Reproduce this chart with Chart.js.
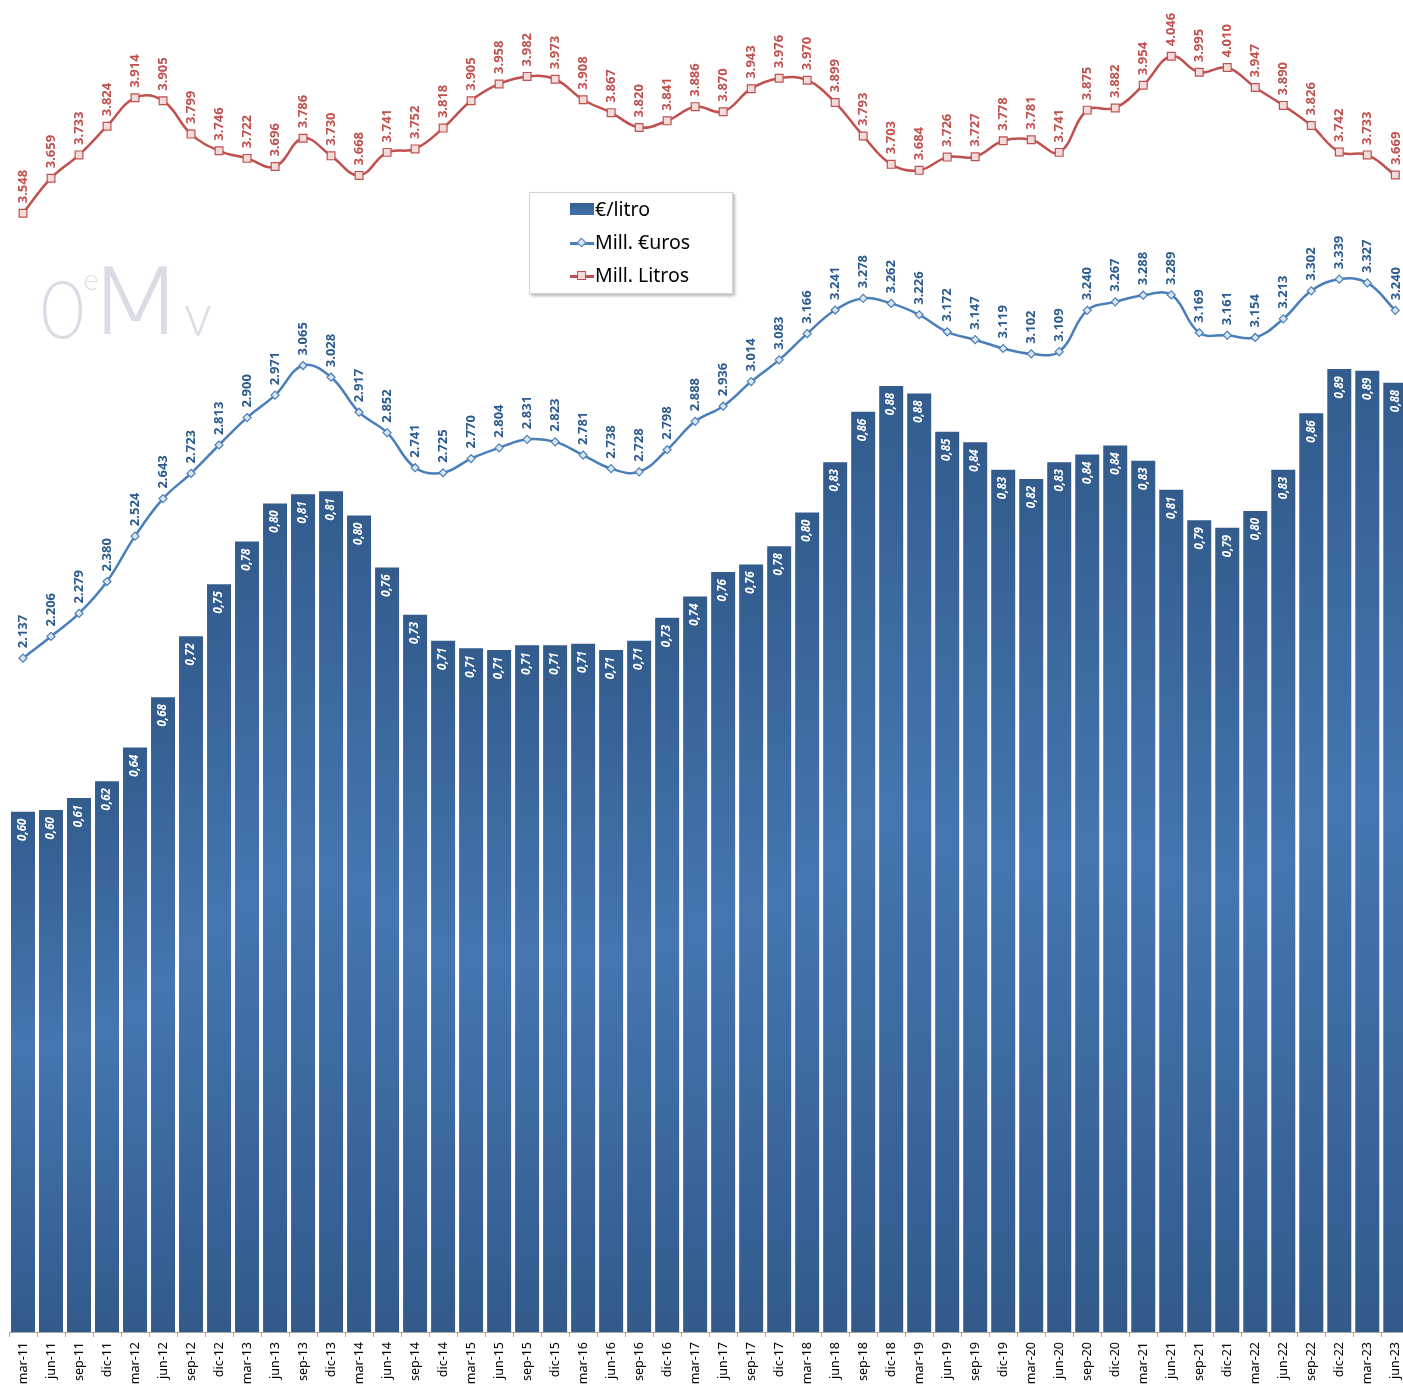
<!DOCTYPE html>
<html>
<head>
<meta charset="utf-8">
<script src="https://cdn.jsdelivr.net/npm/chart.js@4.4.1/dist/chart.umd.min.js"></script>
<style>
  html, body { margin: 0; padding: 0; background: #fff; overflow: hidden; width: 1403px; height: 1386px; }
  #wrap { position: relative; width: 1403px; height: 1386px; overflow: hidden; }
  #chart { position: absolute; left: 0; top: 0; }
  .logo span { position: absolute; line-height: 1; color: #d9dbe5; font-family: "DejaVu Sans", sans-serif; font-weight: 200; white-space: nowrap; transform-origin: 0 0; }
  .legend { position: absolute; left: 529px; top: 192px; width: 202px; height: 100px; background: #fff;
            border: 1px solid #d4d4d4; box-shadow: 2px 2px 3px rgba(0,0,0,0.28); font-family: "Noto Sans", sans-serif; font-size: 19.5px; color: #000; }
  .row { position: absolute; left: 40px; height: 26px; line-height: 26px; }
  .row span { position: absolute; left: 25px; top: -1px; white-space: nowrap; }
  .sw { position: absolute; left: 0; top: 6px; width: 24px; height: 12px; background: linear-gradient(#355f91, #4272ac); }
  .ln { position: absolute; left: 0; top: 12px; width: 24px; height: 2.5px; }
  .mk { position: absolute; left: 8px; top: 9px; width: 7px; height: 7px; box-sizing: border-box; }
</style>
</head>
<body>
<div id="wrap">
  <canvas id="chart" width="1416" height="1386"></canvas>
  <div class="logo">
    <span style="left:38px;top:274px;font-size:76px;transform:scaleX(0.82);">O</span>
    <span style="left:83px;top:268px;font-size:26px;">e</span>
    <span style="left:86px;top:257px;font-size:92px;transform:scaleX(1.25);">M</span>
    <span style="left:182px;top:290px;font-size:54px;">v</span>
  </div>
  <div class="legend">
    <div class="row" style="top:4px;"><div class="sw"></div><span>€/litro</span></div>
    <div class="row" style="top:37px;"><div class="ln" style="background:#4a7ebb;"></div>
      <div class="mk" style="background:#dce6f2;border:1.2px solid #4a7ebb;transform:rotate(45deg);"></div><span>Mill. €uros</span></div>
    <div class="row" style="top:70px;"><div class="ln" style="background:#c0504d;"></div>
      <div class="mk" style="background:#f2dcdb;border:1.2px solid #c0504d;left:7px;top:8px;width:9px;height:9px;"></div><span>Mill. Litros</span></div>
  </div>
</div>
<script>
// --- datos (trimestres) ---
const trimestres = [
  'mar-11','jun-11','sep-11','dic-11',
  'mar-12','jun-12','sep-12','dic-12',
  'mar-13','jun-13','sep-13','dic-13',
  'mar-14','jun-14','sep-14','dic-14',
  'mar-15','jun-15','sep-15','dic-15',
  'mar-16','jun-16','sep-16','dic-16',
  'mar-17','jun-17','sep-17','dic-17',
  'mar-18','jun-18','sep-18','dic-18',
  'mar-19','jun-19','sep-19','dic-19',
  'mar-20','jun-20','sep-20','dic-20',
  'mar-21','jun-21','sep-21','dic-21',
  'mar-22','jun-22','sep-22','dic-22',
  'mar-23','jun-23'
];

// Mill. €uros
const millEuros = [
  2137, 2206, 2279, 2380, 2524, 2643, 2723, 2813, 2900, 2971,
  3065, 3028, 2917, 2852, 2741, 2725, 2770, 2804, 2831, 2823,
  2781, 2738, 2728, 2798, 2888, 2936, 3014, 3083, 3166, 3241,
  3278, 3262, 3226, 3172, 3147, 3119, 3102, 3109, 3240, 3267,
  3288, 3289, 3169, 3161, 3154, 3213, 3302, 3339, 3327, 3240
];

// Mill. Litros
const millLitros = [
  3548, 3659, 3733, 3824, 3914, 3905, 3799, 3746, 3722, 3696,
  3786, 3730, 3668, 3741, 3752, 3818, 3905, 3958, 3982, 3973,
  3908, 3867, 3820, 3841, 3886, 3870, 3943, 3976, 3970, 3899,
  3793, 3703, 3684, 3726, 3727, 3778, 3781, 3741, 3875, 3882,
  3954, 4046, 3995, 4010, 3947, 3890, 3826, 3742, 3733, 3669
];

// €/litro
const euroLitro = [
  0.602, 0.603, 0.611, 0.622, 0.644, 0.677, 0.717, 0.751, 0.779, 0.804,
  0.810, 0.812, 0.796, 0.762, 0.731, 0.714, 0.709, 0.708, 0.711, 0.711,
  0.712, 0.708, 0.714, 0.729, 0.743, 0.759, 0.764, 0.776, 0.798, 0.831,
  0.864, 0.881, 0.876, 0.851, 0.844, 0.826, 0.820, 0.831, 0.836, 0.842,
  0.832, 0.813, 0.793, 0.788, 0.799, 0.826, 0.863, 0.892, 0.891, 0.883
];

const fmtMiles = v => String(v).replace(/\B(?=(\d{3})+(?!\d))/g, '.');
const fmtDec = v => v.toFixed(2).replace('.', ',');

// etiquetas de datos giradas (como en Excel)
const etiquetas = {
  id: 'etiquetas',
  afterDatasetsDraw(chart) {
    const ctx = chart.ctx;
    chart.data.datasets.forEach((ds, i) => {
      const meta = chart.getDatasetMeta(i);
      meta.data.forEach((el, j) => {
        const v = ds.data[j];
        ctx.save();
        if (ds.type === 'bar') {
          ctx.translate(el.x, el.y + 7);
          ctx.rotate(-Math.PI / 2);
          ctx.font = 'italic bold 11.5px "Noto Sans"';
          ctx.fillStyle = '#fff';
          ctx.textAlign = 'right';
          ctx.textBaseline = 'middle';
          ctx.fillText(fmtDec(v), 0, 0);
        } else {
          ctx.translate(el.x + 0.5, el.y - 10);
          ctx.rotate(-Math.PI / 2);
          ctx.font = 'bold 13px "Noto Sans"';
          ctx.fillStyle = ds.labelColor;
          ctx.textAlign = 'left';
          ctx.textBaseline = 'middle';
          ctx.fillText(fmtMiles(v), 0, 0);
        }
        ctx.restore();
      });
    });
  }
};

function degradado(c) {
  const chart = c.chart;
  const area = chart.chartArea;
  if (!area || c.type !== 'data') return '#3d6aa3';
  const top = chart.scales.yBar.getPixelForValue(c.raw);
  const g = chart.ctx.createLinearGradient(0, top, 0, area.bottom);
  g.addColorStop(0, '#335c8d');
  g.addColorStop(0.45, '#4576b1');
  g.addColorStop(1, '#325a8b');
  return g;
}

new Chart(document.getElementById('chart'), {
  type: 'bar',
  data: {
    labels: trimestres,
    datasets: [
      {
        type: 'line', label: 'Mill. Litros', data: millLitros, yAxisID: 'y', order: 1,
        borderColor: '#c0504d', borderWidth: 2.5, tension: 0.4,
        pointStyle: 'rect', pointRadius: 5.5, pointBorderWidth: 1.2,
        pointBackgroundColor: '#f2dcdb', pointBorderColor: '#c0504d',
        labelColor: '#c0504d'
      },
      {
        type: 'line', label: 'Mill. €uros', data: millEuros, yAxisID: 'y', order: 2,
        borderColor: '#4a7ebb', borderWidth: 2.5, tension: 0.4,
        pointStyle: 'rectRot', pointRadius: 4, pointBorderWidth: 1.2,
        pointBackgroundColor: '#dce6f2', pointBorderColor: '#4a7ebb',
        labelColor: '#2b5a90'
      },
      {
        type: 'bar', label: '€/litro', data: euroLitro, yAxisID: 'yBar', order: 3,
        backgroundColor: degradado,
        categoryPercentage: 1, barPercentage: 0.857, borderWidth: 0
      }
    ]
  },
  options: {
    responsive: false,
    animation: false,
    devicePixelRatio: 1,
    layout: { padding: { left: 9, right: 0, top: 0, bottom: 0 } },
    plugins: { legend: { display: false }, tooltip: { enabled: false } },
    scales: {
      x: {
        grid: { offset: true, drawOnChartArea: false, tickLength: 5, color: '#a6a6a6' },
        border: { color: '#a6a6a6' },
        ticks: {
          autoSkip: false, maxRotation: 90, minRotation: 90, padding: 5,
          color: '#000', font: { family: 'Noto Sans', size: 12.5 }
        },
        afterFit(s) { s.height = 54; }
      },
      y: { display: false, min: 0, max: 4203 },
      yBar: { display: false, min: 0.261, max: 1.1295 }
    }
  },
  plugins: [etiquetas]
});
</script>
</body>
</html>
